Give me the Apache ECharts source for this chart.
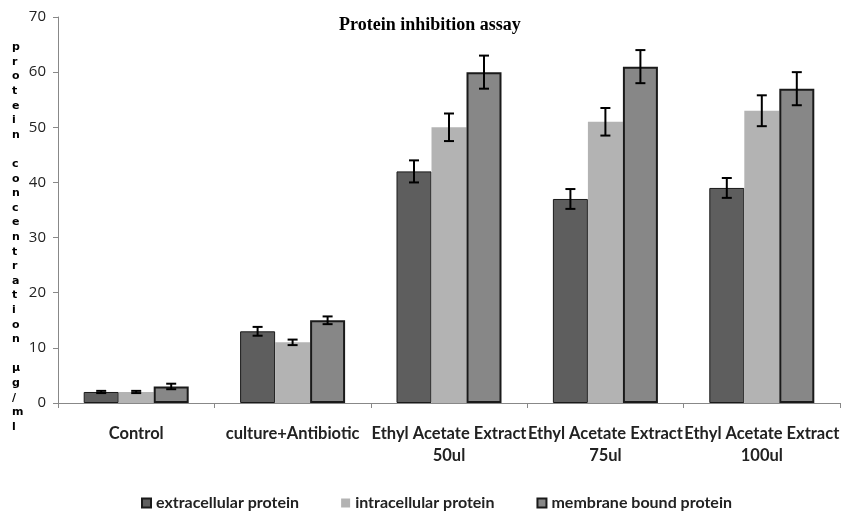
<!DOCTYPE html>
<html><head><meta charset="utf-8">
<script src="https://cdn.jsdelivr.net/npm/echarts@6/dist/echarts.min.js"></script>
<style>html,body{margin:0;padding:0;background:#fff}#c{width:842px;height:514px}</style>
</head><body><div id="c"></div>
<script>
const categories = ['Control', 'culture+Antibiotic', 'Ethyl Acetate Extract\n50ul', 'Ethyl Acetate Extract\n75ul', 'Ethyl Acetate Extract\n100ul'];
const seriesNames = ['extracellular protein', 'intracellular protein', 'membrane bound protein'];
const extracellular = [2, 13, 42, 37, 39];
const intracellular = [2, 11, 50, 51, 53];
const membrane = [3, 15, 60, 61, 57];
const extracellularErr = [0.2, 0.8, 2, 1.8, 1.8];
const intracellularErr = [0.2, 0.5, 2.5, 2.5, 2.8];
const membraneErr = [0.5, 0.7, 3, 3, 3];
const yTicks = [0, 10, 20, 30, 40, 50, 60, 70];
const yTitle = 'protein concentration µg/ml';

const colors = ['#5e5e5e', '#b3b3b3', '#878787'];
const borders = [1, 0, 2];
const values = [extracellular, intracellular, membrane];
const errs = [extracellularErr, intracellularErr, membraneErr];
const BW = 35;

const chart = echarts.init(document.getElementById('c'));
const series = [];
values.forEach((v, i) => {
  series.push({
    name: seriesNames[i], type: 'bar', data: v, barWidth: BW, barGap: '0%',
    itemStyle: { color: colors[i], borderColor: '#1a1a1a', borderWidth: borders[i] }
  });
});
values.forEach((v, i) => {
  series.push({
    type: 'custom', silent: true, z: 10,
    data: v.map((val, k) => [k, val, errs[i][k]]),
    renderItem: (params, api) => {
      const x = api.value(0), y = api.value(1), e = api.value(2);
      const off = (i - 1) * BW;
      const top = api.coord([x, y + e]);
      const bot = api.coord([x, y - e]);
      const cx = top[0] + off;
      const s = { stroke: '#000', lineWidth: 2 };
      return { type: 'group', children: [
        { type: 'line', shape: { x1: cx, y1: top[1], x2: cx, y2: bot[1] }, style: s },
        { type: 'line', shape: { x1: cx - 5, y1: top[1], x2: cx + 5, y2: top[1] }, style: s },
        { type: 'line', shape: { x1: cx - 5, y1: bot[1], x2: cx + 5, y2: bot[1] }, style: s }
      ]};
    }
  });
});

chart.setOption({
  animation: false,
  title: { text: 'Protein inhibition assay', left: 334, top: 11,
    textStyle: { fontFamily: 'Liberation Serif', fontWeight: 'bold', fontSize: 18, color: '#000' } },
  grid: { left: 58, top: 17, width: 785, height: 386 },
  legend: { data: seriesNames, bottom: 3, left: 141, padding: 0, icon: 'rect', itemWidth: 9, itemHeight: 9, itemGap: 42,
    textStyle: { fontFamily: 'Lato', fontWeight: 'bold', fontSize: 16, color: '#222' } },
  xAxis: { type: 'category', data: categories,
    axisLine: { lineStyle: { color: '#888', width: 1 } },
    axisTick: { show: true, length: 5, lineStyle: { color: '#888' } },
    axisLabel: { interval: 0, margin: 20, lineHeight: 22, fontFamily: 'Lato', fontWeight: 'bold', fontSize: 16.5, color: '#222' } },
  yAxis: { type: 'value', min: 0, max: 70, interval: 10,
    splitLine: { show: false },
    axisLine: { show: true, lineStyle: { color: '#888' } },
    axisTick: { show: true, length: 5, lineStyle: { color: '#888' } },
    axisLabel: { fontFamily: 'Open Sans', fontSize: 15, color: '#222', margin: 12 } },
  graphic: [{ type: 'text', left: 12, top: 40,
    style: { text: yTitle.split('').join('\n'), fontFamily: 'DejaVu Sans', fontWeight: 'bold', fontSize: 11, lineHeight: 14.6, fill: '#000' } }],
  series
});
</script></body></html>
